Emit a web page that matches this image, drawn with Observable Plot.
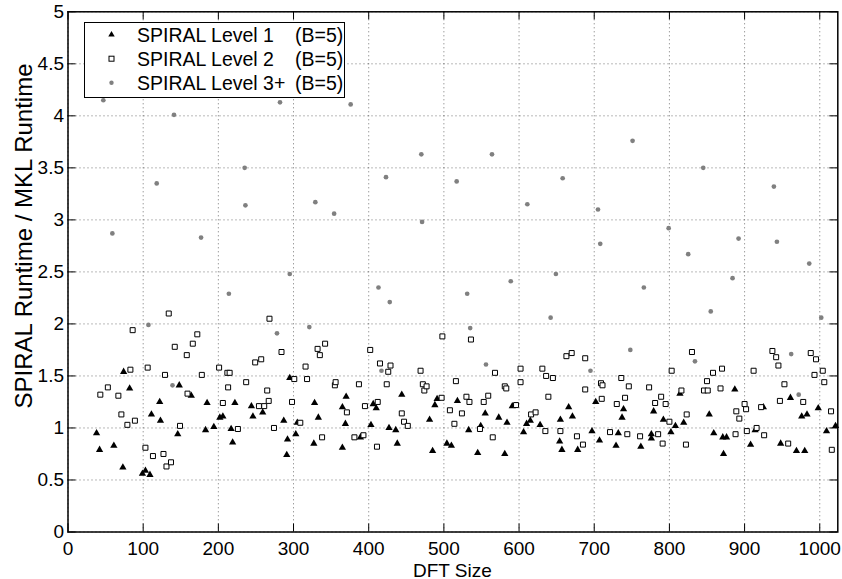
<!DOCTYPE html>
<html><head><meta charset="utf-8">
<script src="https://cdn.jsdelivr.net/npm/d3@7"></script>
<script src="https://cdn.jsdelivr.net/npm/@observablehq/plot@0.6"></script>
<style>
body{margin:0;background:#fff;}
#wrap{position:relative;width:842px;height:579px;font-family:"Liberation Sans",Arial,Helvetica,sans-serif;}
#legend{position:absolute;left:84px;top:22px;}
</style></head><body><div id="wrap"></div>
<script>
// ---- data ----
const level1X = [38,42,61,73,74,82,99,103,109,111,122,123,146,148,164,
183,185,194,202,206,217,219,222,244,246,259,287,291,292,295,303,305,327,328,333,
365,365,369,370,389,403,406,410,427,436,438,444,481,485,488,491,504,510,
518,533,545,549,555,573,581,584,591,606,610,615,628,654,655,657,666,671,678,
697,702,707,729,732,737,739,762,776,776,779,792,802,808,814,819,853,859,
871,872,876,887,908,914,925,948,961,969,976,980,983,998,1009,1021];
const level1Y = [0.95,0.79,0.83,0.62,1.54,1.38,0.56,0.59,0.55,1.13,1.25,1.07,0.94,1.41,1.31,
0.98,1.24,1.01,1.10,1.11,0.99,0.86,1.24,1.21,1.11,1.15,1.07,0.74,0.89,1.48,0.94,1.05,0.85,1.24,1.10,
0.81,1.20,1.04,1.30,0.91,1.03,1.23,1.19,1.00,0.98,0.85,1.32,1.08,0.78,1.22,1.28,0.85,0.83,
1.26,0.98,0.76,1.02,1.14,1.10,0.75,1.05,1.21,0.96,1.04,1.07,1.03,0.87,1.08,0.79,1.20,1.11,0.79,
0.97,1.25,0.88,0.83,0.95,1.10,1.18,0.82,0.94,0.90,1.16,1.08,0.96,1.02,1.33,1.05,1.13,0.95,
0.91,0.75,0.91,1.37,0.84,0.98,1.20,0.85,1.29,0.78,1.11,0.78,1.13,1.19,0.97,1.02];

const level2X = [43,53,67,71,79,83,86,89,103,106,113,127,129,131,134,137,142,149,158,159,166,172,
178,201,206,212,213,215,226,237,249,254,257,261,265,267,268,274,284,298,301,309,316,318,332,335,338,342,
355,356,371,381,387,393,395,402,411,412,415,424,426,429,444,447,452,469,472,474,477,497,498,508,
514,516,524,530,534,536,548,553,559,565,568,581,583,596,602,602,616,622,631,635,636,639,645,655,663,670,677,685,688,688,
709,710,711,721,730,736,741,744,746,761,773,781,785,789,791,795,800,803,816,822,823,830,846,850,851,858,
868,870,888,889,893,900,902,903,912,916,922,926,937,942,945,947,953,958,978,988,993,995,1004,1006,1015,1016];
const level2Y = [1.32,1.39,1.31,1.13,1.03,1.56,1.94,1.07,0.81,1.58,0.73,0.75,1.51,0.63,2.10,0.67,1.78,1.02,1.70,1.33,1.81,1.90,
1.51,1.58,1.24,1.53,1.39,1.53,0.99,1.44,1.63,1.21,1.66,1.21,1.36,1.26,2.05,1.00,1.73,1.25,1.47,1.05,1.59,1.47,1.76,1.70,0.91,1.81,
1.41,1.44,1.15,0.91,1.42,0.93,1.21,1.75,0.82,1.25,1.62,1.42,1.54,1.60,1.14,1.06,1.02,1.55,1.42,1.36,1.40,1.29,1.88,1.17,
1.04,1.45,1.14,1.30,1.25,1.85,0.99,1.25,1.31,0.91,1.53,1.40,1.38,1.22,1.57,1.44,1.13,1.15,1.57,0.97,1.50,1.30,1.48,0.97,1.69,1.72,0.92,0.84,1.67,1.37,
1.43,1.28,1.41,0.96,1.23,1.48,1.29,0.94,1.40,0.92,1.39,1.24,0.94,1.30,0.85,1.23,1.06,1.55,1.36,0.84,1.13,1.73,1.36,1.45,1.36,1.53,
1.38,1.57,0.94,1.16,1.09,1.23,1.18,0.97,1.55,1.00,1.20,0.93,1.74,1.68,1.60,1.26,1.42,0.85,1.25,1.72,1.51,1.66,1.55,1.44,1.16,0.79];

const level3X = [47,59,107,118,139,141,177,214,235,236,278,282,295,321,329,354,376,413,417,423,428,470,471,
517,531,535,556,564,589,611,642,649,658,695,705,708,748,751,766,799,825,834,845,855,884,892,939,943,962,972,986,1002];
const level3Y = [4.15,2.87,1.99,3.35,1.41,4.01,2.83,2.29,3.50,3.14,1.91,4.13,2.48,1.97,3.17,3.06,4.11,2.35,1.55,3.41,2.21,3.63,2.98,
3.37,2.29,1.96,1.61,3.63,2.41,3.15,2.06,2.48,3.40,1.55,3.10,2.77,1.75,3.76,2.35,2.92,2.67,1.64,3.50,2.12,2.44,2.82,3.32,2.79,1.71,1.32,2.58,2.06];

const xTicks = [0,100,200,300,400,500,600,700,800,900,1000];
const yTicks = [0,0.5,1,1.5,2,2.5,3,3.5,4,4.5,5];
const xLabel = "DFT Size";
const yLabel = "SPIRAL Runtime / MKL Runtime";
const seriesNames = ["SPIRAL Level 1", "SPIRAL Level 2", "SPIRAL Level 3+"];
const seriesNote = "(B=5)";

// ---- build ----
const rows = (xs, ys) => xs.map((x, i) => ({x, y: ys[i]}));
const level1 = rows(level1X, level1Y);
const level2 = rows(level2X, level2Y);
const level3 = rows(level3X, level3Y);

const W = 842, H = 579, mL = 67.5, mR = 4.7, mT = 11.3, mB = 47.5;
const innerW = W - mL - mR, innerH = H - mT - mB;
const font = '"Liberation Sans", Arial, Helvetica, sans-serif';
const grid = {stroke: "#000", strokeOpacity: 0.55, strokeDasharray: "1,3", strokeWidth: 1};

const chart = Plot.plot({
  width: W, height: H,
  marginLeft: mL, marginRight: mR, marginTop: mT, marginBottom: mB,
  style: {fontFamily: font, fontSize: "19px", background: "white", color: "black", overflow: "visible"},
  x: {domain: [0, 1024], ticks: xTicks, tickSize: 0, tickPadding: 9, tickFormat: d => String(d), label: null},
  y: {domain: [0, 5], ticks: yTicks, tickSize: 0, tickPadding: 4, tickFormat: d => String(d), label: null},
  marks: [
    Plot.ruleX(xTicks, {x: d => d, ...grid}),
    Plot.ruleY(yTicks, {y: d => d, ...grid}),
    Plot.tickX(xTicks, {x: d => d, insetTop: innerH - 8, stroke: "#000"}),
    Plot.tickX(xTicks, {x: d => d, insetBottom: innerH - 8, stroke: "#000"}),
    Plot.tickY(yTicks, {y: d => d, insetRight: innerW - 8, stroke: "#000"}),
    Plot.tickY(yTicks, {y: d => d, insetLeft: innerW - 8, stroke: "#000"}),
    Plot.dot(level1, {x: "x", y: "y", symbol: "triangle", r: 2.7, fill: "#000"}),
    Plot.dot(level2, {x: "x", y: "y", symbol: "square", r: 2.82, fill: "#fff", stroke: "#000", strokeWidth: 1}),
    Plot.dot(level3, {x: "x", y: "y", r: 2.35, fill: "#808080"}),
    Plot.frame({stroke: "#000", strokeWidth: 1.5})
  ]
});

const wrap = document.getElementById("wrap");
wrap.appendChild(chart);

const svg = d3.select(chart);
svg.append("text")
  .attr("transform", "translate(32,236) rotate(-90)")
  .attr("text-anchor", "middle")
  .attr("fill", "#000")
  .style("font-size", "24px")
  .text(yLabel);
svg.append("text")
  .attr("x", mL + innerW / 2).attr("y", 576.5)
  .attr("text-anchor", "middle")
  .attr("fill", "#000")
  .style("font-size", "19px")
  .text(xLabel);

// ---- legend ----
const lg = d3.select(wrap).append("svg")
  .attr("id", "legend").attr("width", 262).attr("height", 76)
  .style("font-family", font).style("font-size", "19.5px");
lg.append("rect").attr("x", 0.5).attr("y", 0.5).attr("width", 260).attr("height", 75)
  .attr("fill", "#fff").attr("stroke", "#000").attr("stroke-width", 1);
const rowY = [12.7, 36.7, 60.7];
const mx = 27.5;
lg.append("path").attr("transform", `translate(${mx},${rowY[0]})`)
  .attr("d", d3.symbol(d3.symbolTriangle, 18)()).attr("fill", "#000");
lg.append("rect").attr("x", mx - 2.5).attr("y", rowY[1] - 2.5).attr("width", 5).attr("height", 5)
  .attr("fill", "#fff").attr("stroke", "#000").attr("stroke-width", 1);
lg.append("circle").attr("cx", mx).attr("cy", rowY[2]).attr("r", 2.2).attr("fill", "#808080");
seriesNames.forEach((name, i) => {
  lg.append("text").attr("x", 53).attr("y", rowY[i] + 7).attr("fill", "#000").text(name);
  lg.append("text").attr("x", 211).attr("y", rowY[i] + 7).attr("fill", "#000").text(seriesNote);
});
</script>
</body></html>
